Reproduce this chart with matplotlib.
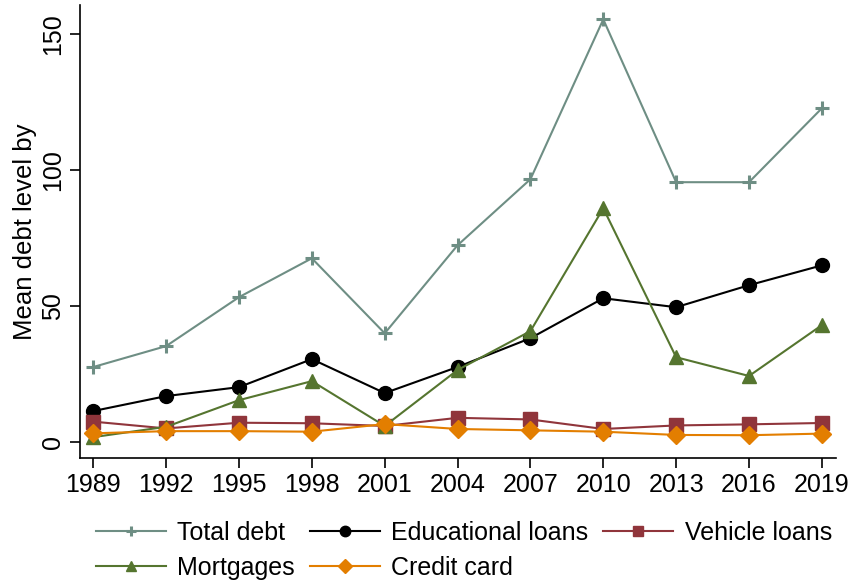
import matplotlib
matplotlib.use("Agg")
import matplotlib.pyplot as plt

# ── Data (mean debt level by survey year) ─────────────────────────────────────
years = [1989, 1992, 1995, 1998, 2001, 2004, 2007, 2010, 2013, 2016, 2019]

total_debt  = [27.6, 35.3, 53.3, 67.6, 40.0, 72.4, 96.7, 155.5, 95.6, 95.6, 122.8]
educational = [11.4, 16.9, 20.2, 30.5, 18.0, 27.6, 38.2, 52.9, 49.6, 57.7, 65.0]
vehicle     = [7.5, 5.0, 7.1, 6.9, 5.9, 8.9, 8.3, 4.8, 6.1, 6.5, 7.0]
mortgages   = [1.8, 5.6, 15.4, 22.4, 5.9, 26.5, 40.8, 86.0, 31.2, 24.3, 43.0]
credit_card = [3.2, 4.0, 4.0, 3.8, 6.6, 4.8, 4.3, 3.8, 2.6, 2.5, 3.1]

# Stata s1color-like palette
C_TEAL   = "#6e8e84"
C_BLACK  = "#000000"
C_MAROON = "#90353b"
C_GREEN  = "#55752f"
C_ORANGE = "#e37e00"

plt.rcParams["font.family"] = ["Liberation Sans", "DejaVu Sans"]

fig = plt.figure(figsize=(8.53, 5.85), dpi=100)
ax = fig.add_axes([0.094, 0.217, 0.886, 0.774])

LW = 1.5
h_total, = ax.plot(years, total_debt, color=C_TEAL, lw=LW, marker="+",
                   ms=10, mew=2.2, label="Total debt")
h_edu, = ax.plot(years, educational, color=C_BLACK, lw=LW, marker="o",
                 ms=10, label="Educational loans")
h_veh, = ax.plot(years, vehicle, color=C_MAROON, lw=LW, marker="s",
                 ms=9.5, label="Vehicle loans")
h_mort, = ax.plot(years, mortgages, color=C_GREEN, lw=LW, marker="^",
                  ms=10.5, label="Mortgages")
h_cc, = ax.plot(years, credit_card, color=C_ORANGE, lw=LW, marker="D",
                ms=9, label="Credit card")

ax.set_xlim(1988.46, 2019.58)
ax.set_ylim(-5.9, 160.7)
ax.set_xticks(years)
ax.set_yticks([0, 50, 100, 150])
ax.tick_params(axis="both", labelsize=18, length=7, width=1.2, pad=4)
for lbl in ax.get_yticklabels():
    lbl.set_rotation(90)
    lbl.set_va("center")
ax.set_ylabel("Mean debt level by", fontsize=18.5)
ax.yaxis.set_label_coords(-0.057, 0.5)

for side in ("top", "right"):
    ax.spines[side].set_visible(False)
for side in ("left", "bottom"):
    ax.spines[side].set_linewidth(1.2)

# legend laid out row-wise: 3 per row
handles = [h_total, h_mort, h_edu, h_cc, h_veh]
fig.legend(handles=handles, labels=[h.get_label() for h in handles],
           loc="upper left", bbox_to_anchor=(0.101, 0.127), ncol=3,
           frameon=False, fontsize=18, handlelength=2.8, handletextpad=0.45,
           columnspacing=0.6, labelspacing=0.45, borderaxespad=0,
           markerscale=0.75)

fig.savefig("out.png", dpi=100)
